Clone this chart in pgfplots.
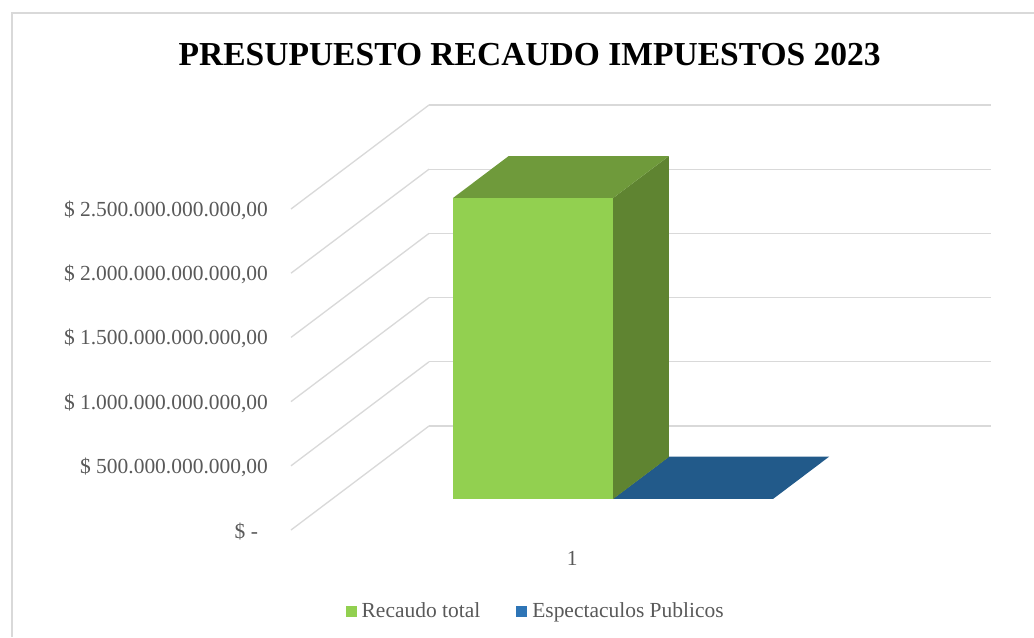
\documentclass[border=0pt]{standalone}
\usepackage{fontspec}
\setmainfont{Liberation Serif}
\usepackage{pgfplots}
\pgfplotsset{compat=1.18}
\definecolor{txt}{HTML}{595959}
\definecolor{gridc}{HTML}{D9D9D9}
\definecolor{front}{HTML}{92D050}
\definecolor{topg}{HTML}{6F9A3B}
\definecolor{sideg}{HTML}{5F8431}
\definecolor{blueleg}{HTML}{2E75B6}
\definecolor{bluetop}{HTML}{225A8A}
\begin{document}
\begin{tikzpicture}
\path[use as bounding box] (0,0) rectangle (775.5pt,477.75pt);
\draw[gridc,line width=1.5pt] (9pt,0)--(9pt,468pt)--(775.5pt,468pt);
\begin{axis}[
    at={(218.25pt,80.25pt)},
    anchor=south west,
    x={(421.5pt,0pt)},
    y={(103.5pt,78pt)},
    z={(0pt,0.0963pt)},
    xmin=0.5, xmax=1.5,
    ymin=0, ymax=1,
    zmin=0, zmax=2500,
    clip=false,
    axis line style={draw=none},
    major tick length=0pt,
    xtick={1},
    xticklabels={1},
    ytick=\empty,
    ztick={0,500,1000,1500,2000,2500},
    zticklabels={{\$ -\rule{7.5pt}{0pt}},
        {\$ 500.000.000.000,00},
        {\$ 1.000.000.000.000,00},
        {\$ 1.500.000.000.000,00},
        {\$ 2.000.000.000.000,00},
        {\$ 2.500.000.000.000,00}},
    zmajorgrids,
    major grid style={gridc,line width=1pt},
    title={PRESUPUESTO RECAUDO IMPUESTOS 2023},
    title style={at={(0.341,1.101)},anchor=center,font=\fontsize{25.15}{28}\selectfont\bfseries,text=black},
    ticklabel style={font=\fontsize{16.1}{18}\selectfont,text=txt},
    x tick label style={xshift=4.5pt,yshift=-12.75pt},
    z tick label style={anchor=east,xshift=-13.75pt,yshift=-1pt},
    legend style={at={(0.35,-0.191)},anchor=center,draw=none,fill=none,
        legend columns=2,font=\fontsize{16.1}{18}\selectfont,text=txt,
        /tikz/every even column/.append style={column sep=25pt}},
    legend image code/.code={\path[draw=none,fill=none] (0pt,0pt)--(10pt,0pt);\fill[#1,draw=none] (0pt,-4.1pt) rectangle (8.25pt,4.1pt);},
]
\addlegendimage{fill=front}
\addlegendentry{Recaudo total}
\addlegendimage{fill=blueleg}
\addlegendentry{Espectaculos Publicos}

% Espectaculos Publicos, casi sin altura
\addplot3[fill=bluetop,draw=none,forget plot] coordinates {
    (1,0.298,2) (1.285,0.298,2) (1.285,0.702,2) (1,0.702,2)
};
% Recaudo total: cara lateral, superior y frontal
\addplot3[fill=sideg,draw=none,forget plot] coordinates {
    (1,0.298,0) (1,0.702,0) (1,0.702,2344) (1,0.298,2344)
};
\addplot3[fill=topg,draw=none,forget plot] coordinates {
    (0.715,0.298,2344) (1,0.298,2344) (1,0.702,2344) (0.715,0.702,2344)
};
\addplot3[fill=front,draw=none,forget plot] coordinates {
    (0.715,0.298,0) (1,0.298,0) (1,0.298,2344) (0.715,0.298,2344)
};
\end{axis}
\end{tikzpicture}
\end{document}
